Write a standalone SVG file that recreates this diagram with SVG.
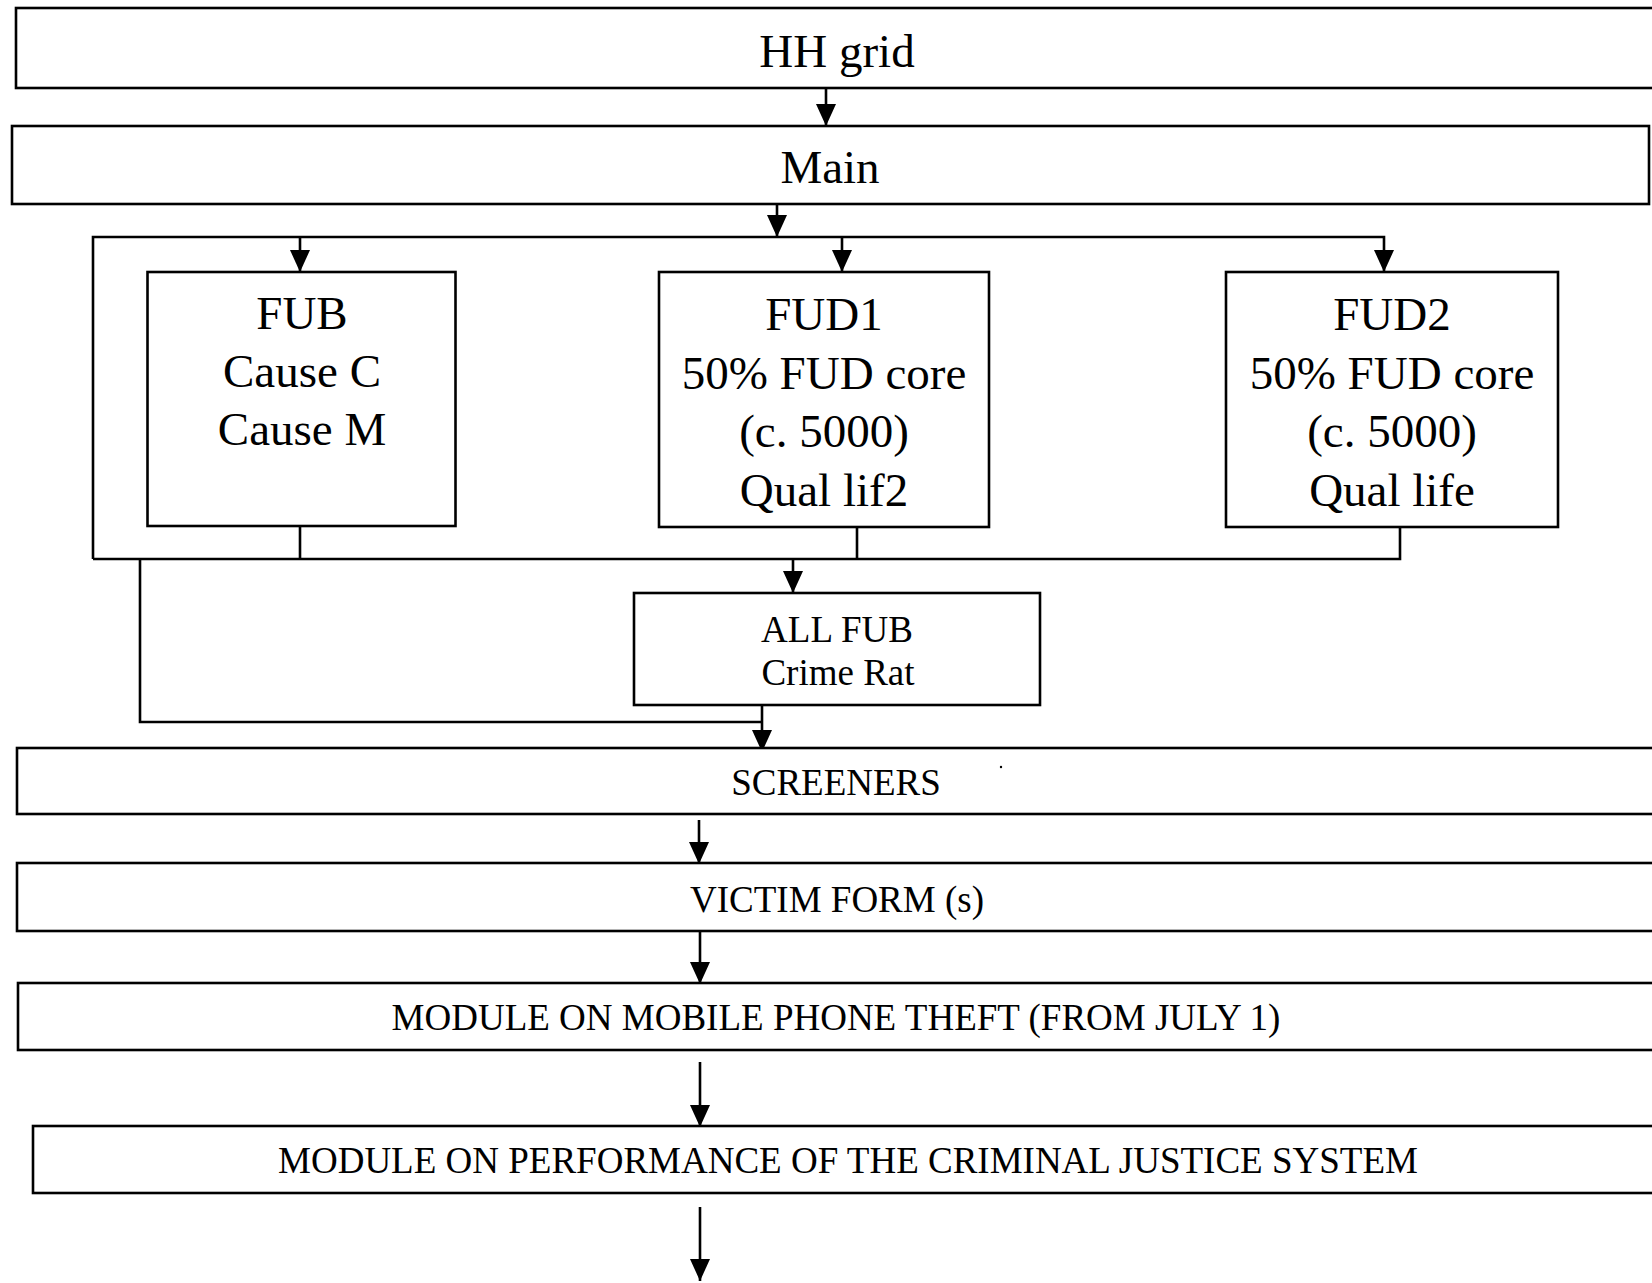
<svg xmlns="http://www.w3.org/2000/svg" width="1652" height="1283" viewBox="0 0 1652 1283">
<style>
.box{fill:#fff;stroke:#000;stroke-width:2.6}
.ln{fill:none;stroke:#000;stroke-width:2.6}
.big{font-family:"Liberation Serif","Times New Roman",serif;font-size:47px;fill:#000;text-anchor:middle}
.sm{font-family:"Liberation Serif","Times New Roman",serif;font-size:37px;fill:#000;text-anchor:middle}
</style>
<defs>
<marker id="ah" markerUnits="userSpaceOnUse" markerWidth="22" markerHeight="20" viewBox="0 0 22 20" refX="22" refY="10" orient="auto">
<path d="M0,0 L22,10 L0,20 z" fill="#000"/>
</marker>
</defs>
<rect width="1652" height="1283" fill="#fff"/>
<g id="connectors">
<line class="ln" x1="826" y1="88" x2="826" y2="126" marker-end="url(#ah)"/>
<line class="ln" x1="777" y1="204" x2="777" y2="237" marker-end="url(#ah)"/>
<path class="ln" d="M93 559 V237 H1384 V272" marker-end="url(#ah)"/>
<line class="ln" x1="300" y1="237" x2="300" y2="272" marker-end="url(#ah)"/>
<line class="ln" x1="842" y1="237" x2="842" y2="272" marker-end="url(#ah)"/>
<line class="ln" x1="300" y1="526" x2="300" y2="559"/>
<line class="ln" x1="857" y1="527" x2="857" y2="559"/>
<path class="ln" d="M1400 527 V559 H93"/>
<line class="ln" x1="793" y1="559" x2="793" y2="593" marker-end="url(#ah)"/>
<path class="ln" d="M140 559 V722 H762"/>
<line class="ln" x1="762" y1="705" x2="762" y2="752" marker-end="url(#ah)"/>
<line class="ln" x1="699" y1="820" x2="699" y2="864" marker-end="url(#ah)"/>
<line class="ln" x1="700" y1="931" x2="700" y2="984" marker-end="url(#ah)"/>
<line class="ln" x1="700" y1="1062" x2="700" y2="1127" marker-end="url(#ah)"/>
<line class="ln" x1="700" y1="1207" x2="700" y2="1281" marker-end="url(#ah)"/>
</g>
<g id="hh-grid">
<rect class="box" x="16" y="8" width="1650" height="80"/>
<text class="big" x="837" y="67">HH grid</text>
</g>
<g id="main">
<rect class="box" x="12" y="126" width="1637" height="78"/>
<text class="big" x="830" y="183">Main</text>
</g>
<g id="fub">
<rect class="box" x="147.5" y="272" width="308" height="254"/>
<text class="big" x="302" y="329">FUB</text>
<text class="big" x="302" y="387">Cause C</text>
<text class="big" x="302" y="445">Cause M</text>
</g>
<g id="fud1">
<rect class="box" x="659" y="272" width="330" height="255"/>
<text class="big" x="824" y="330">FUD1</text>
<text class="big" x="824" y="389">50% FUD core</text>
<text class="big" x="824" y="447">(c. 5000)</text>
<text class="big" x="824" y="506">Qual lif2</text>
</g>
<g id="fud2">
<rect class="box" x="1226" y="272" width="332" height="255"/>
<text class="big" x="1392" y="330">FUD2</text>
<text class="big" x="1392" y="389">50% FUD core</text>
<text class="big" x="1392" y="447">(c. 5000)</text>
<text class="big" x="1392" y="506">Qual life</text>
</g>
<g id="all-fub">
<rect class="box" x="634" y="593" width="406" height="112"/>
<text class="sm" x="837" y="642">ALL FUB</text>
<text class="sm" x="838" y="685">Crime Rat</text>
</g>
<g id="screeners">
<rect class="box" x="17" y="748" width="1650" height="66"/>
<text class="sm" x="836" y="795">SCREENERS</text>
<circle cx="1001" cy="767" r="1.2" fill="#000"/>
</g>
<g id="victim-form">
<rect class="box" x="17" y="863" width="1650" height="68"/>
<text class="sm" x="837" y="912">VICTIM FORM (s)</text>
</g>
<g id="module-mobile">
<rect class="box" x="18" y="983" width="1650" height="67"/>
<text class="sm" x="836" y="1030">MODULE ON MOBILE PHONE THEFT (FROM JULY 1)</text>
</g>
<g id="module-cjs">
<rect class="box" x="33" y="1126" width="1650" height="67"/>
<text class="sm" x="848" y="1173">MODULE ON PERFORMANCE OF THE CRIMINAL JUSTICE SYSTEM</text>
</g>
</svg>
